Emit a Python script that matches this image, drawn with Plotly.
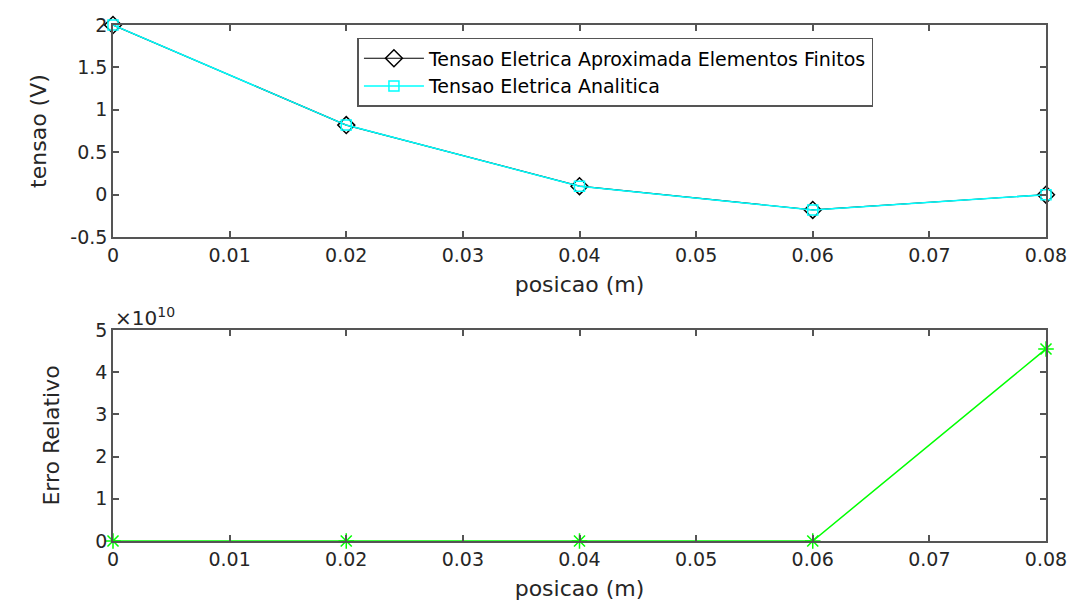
import plotly.graph_objects as go

posicao = [0.0, 0.02, 0.04, 0.06, 0.08]
tensao_fem = [2.0, 0.82, 0.10, -0.18, 0.0]
tensao_analitica = [2.0, 0.82, 0.10, -0.18, 0.0]
erro_relativo = [0.0, 0.0, 0.0, 0.0, 4.55e10]

x_ticks = [0, 0.01, 0.02, 0.03, 0.04, 0.05, 0.06, 0.07, 0.08]
x_ticktext = ["0", "0.01", "0.02", "0.03", "0.04", "0.05", "0.06", "0.07", "0.08"]
y1_ticks = [-0.5, 0, 0.5, 1, 1.5, 2]
y1_ticktext = ["-0.5", "0", "0.5", "1", "1.5", "2"]
y2_ticks = [0, 1e10, 2e10, 3e10, 4e10, 5e10]
y2_ticktext = ["0", "1", "2", "3", "4", "5"]

FONT = "DejaVu Sans, Liberation Sans, Arial, sans-serif"
AX = "#555555"
TXT = "#262626"

fig = go.Figure()
fig.add_trace(go.Scatter(
    x=posicao, y=tensao_fem, mode="lines+markers",
    name="Tensao Eletrica Aproximada Elementos Finitos",
    line=dict(color="black", width=1.2),
    marker=dict(symbol="diamond-open", size=13, color="black", line=dict(width=1.5)),
    cliponaxis=False, xaxis="x", yaxis="y"))
fig.add_trace(go.Scatter(
    x=posicao, y=tensao_analitica, mode="lines+markers",
    name="Tensao Eletrica Analitica",
    line=dict(color="#00FFFF", width=1.5),
    marker=dict(symbol="square-open", size=10, color="#00FFFF", line=dict(width=1.5)),
    cliponaxis=False, xaxis="x", yaxis="y"))
fig.add_trace(go.Scatter(
    x=posicao, y=erro_relativo, mode="lines+markers",
    name="Erro Relativo", showlegend=False,
    line=dict(color="#00FF00", width=1.5),
    marker=dict(symbol="asterisk-open", size=13, color="#00FF00", line=dict(width=1.5, color="#00FF00")),
    cliponaxis=False, xaxis="x2", yaxis="y2"))

axis_common = dict(
    showline=True, linecolor=AX, linewidth=1.5, mirror="allticks",
    ticks="inside", ticklen=6, tickcolor=AX, tickwidth=1.5,
    showgrid=False, zeroline=False, automargin=False,
    tickfont=dict(family=FONT, size=19, color=TXT),
)
title_font = dict(size=22, family=FONT, color=TXT)

fig.update_layout(
    width=1076, height=601,
    margin=dict(l=113, r=30, t=25, b=60),
    paper_bgcolor="white", plot_bgcolor="white",
    font=dict(family=FONT, color=TXT),
    xaxis=dict(domain=[0, 1], anchor="y", range=[0, 0.08],
               tickvals=x_ticks, ticktext=x_ticktext,
               title=dict(text="posicao (m)", font=title_font, standoff=12),
               **axis_common),
    yaxis=dict(domain=[0.589, 1.0], anchor="x", range=[-0.5, 2],
               tickvals=y1_ticks, ticktext=y1_ticktext,
               title=dict(text="tensao (V)", font=title_font, standoff=18),
               **axis_common),
    xaxis2=dict(domain=[0, 1], anchor="y2", range=[0, 0.08],
                tickvals=x_ticks, ticktext=x_ticktext,
                title=dict(text="posicao (m)", font=title_font, standoff=12),
                **axis_common),
    yaxis2=dict(domain=[0, 0.409], anchor="x2", range=[0, 5e10],
                tickvals=y2_ticks, ticktext=y2_ticktext,
                title=dict(text="Erro Relativo", font=title_font, standoff=30),
                **axis_common),
    legend=dict(
        x=0.262, y=0.975, xanchor="left", yanchor="top",
        bgcolor="white", bordercolor=AX, borderwidth=1.5,
        font=dict(family=FONT, size=19, color="black"),
        tracegroupgap=0, itemwidth=60,
    ),
    annotations=[dict(
        text="×10<sup>10</sup>", x=0, y=1, xref="x2 domain", yref="y2 domain",
        xanchor="left", yanchor="bottom", showarrow=False, yshift=-2,
        font=dict(family=FONT, size=20, color=TXT))],
)

fig.write_html("out.html")
